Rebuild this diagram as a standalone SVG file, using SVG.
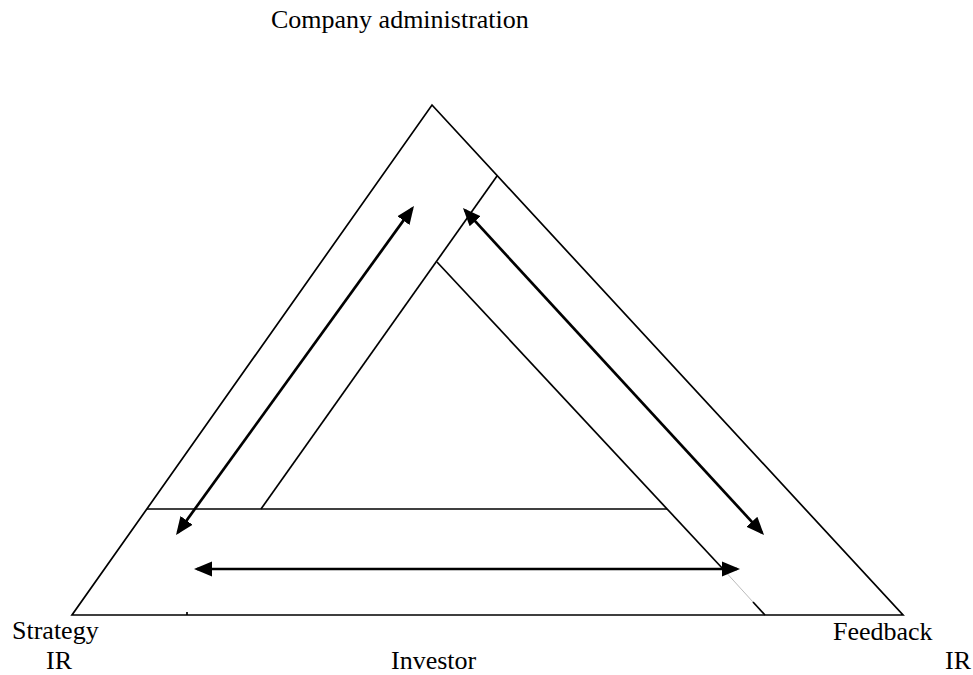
<svg xmlns="http://www.w3.org/2000/svg" width="973" height="675" viewBox="0 0 973 675">
  <style>
    .frame { fill: none; stroke: #000; stroke-width: 1.7; stroke-linejoin: miter; }
    .flow { fill: none; stroke: #000; stroke-width: 2.7; }
    .label { font-family: "Liberation Serif", "Times New Roman", serif; font-size: 26px; fill: #000; }
  </style>
  <defs>
    <marker id="head" markerUnits="userSpaceOnUse" markerWidth="19" markerHeight="17" refX="15" refY="8.5" orient="auto-start-reverse" viewBox="0 0 19 17">
      <path d="M0,1 L18,8.5 L0,16 Z" fill="#000"/>
    </marker>
  </defs>
  <rect width="973" height="675" fill="#fff"/>

  <!-- triangle outline and inner bands -->
  <g id="triangle">
    <path class="frame" d="M432,105 L903,615 L72,615 Z"/>
    <!-- band parallel to the left side -->
    <line class="frame" x1="497" y1="176" x2="261" y2="509"/>
    <!-- band parallel to the right side -->
    <line class="frame" x1="437" y1="262" x2="723" y2="569"/>
    <line x1="723" y1="569" x2="753" y2="602" stroke="#bbb" stroke-width="1"/>
    <line class="frame" x1="753" y1="602" x2="765" y2="615"/>
    <!-- band along the base -->
    <line class="frame" x1="147" y1="509" x2="667" y2="509"/>
    <line class="frame" x1="187" y1="612" x2="187" y2="615"/>
  </g>

  <!-- two-way flows -->
  <g id="connectors">
    <line class="flow" x1="177.8" y1="532.6" x2="412.2" y2="208.4" marker-start="url(#head)" marker-end="url(#head)"/>
    <line class="flow" x1="465" y1="210.2" x2="762" y2="532.8" marker-start="url(#head)" marker-end="url(#head)"/>
    <line class="flow" x1="197" y1="569" x2="737" y2="569" marker-start="url(#head)" marker-end="url(#head)"/>
  </g>

  <g id="company-administration">
    <text class="label" x="271" y="28">Company administration</text>
  </g>
  <g id="strategy-ir">
    <text class="label" x="12" y="639">Strategy</text>
    <text class="label" x="46" y="669">IR</text>
  </g>
  <g id="investor">
    <text class="label" x="391" y="669">Investor</text>
  </g>
  <g id="feedback-ir">
    <text class="label" x="833" y="640">Feedback</text>
    <text class="label" x="945" y="669">IR</text>
  </g>
</svg>
